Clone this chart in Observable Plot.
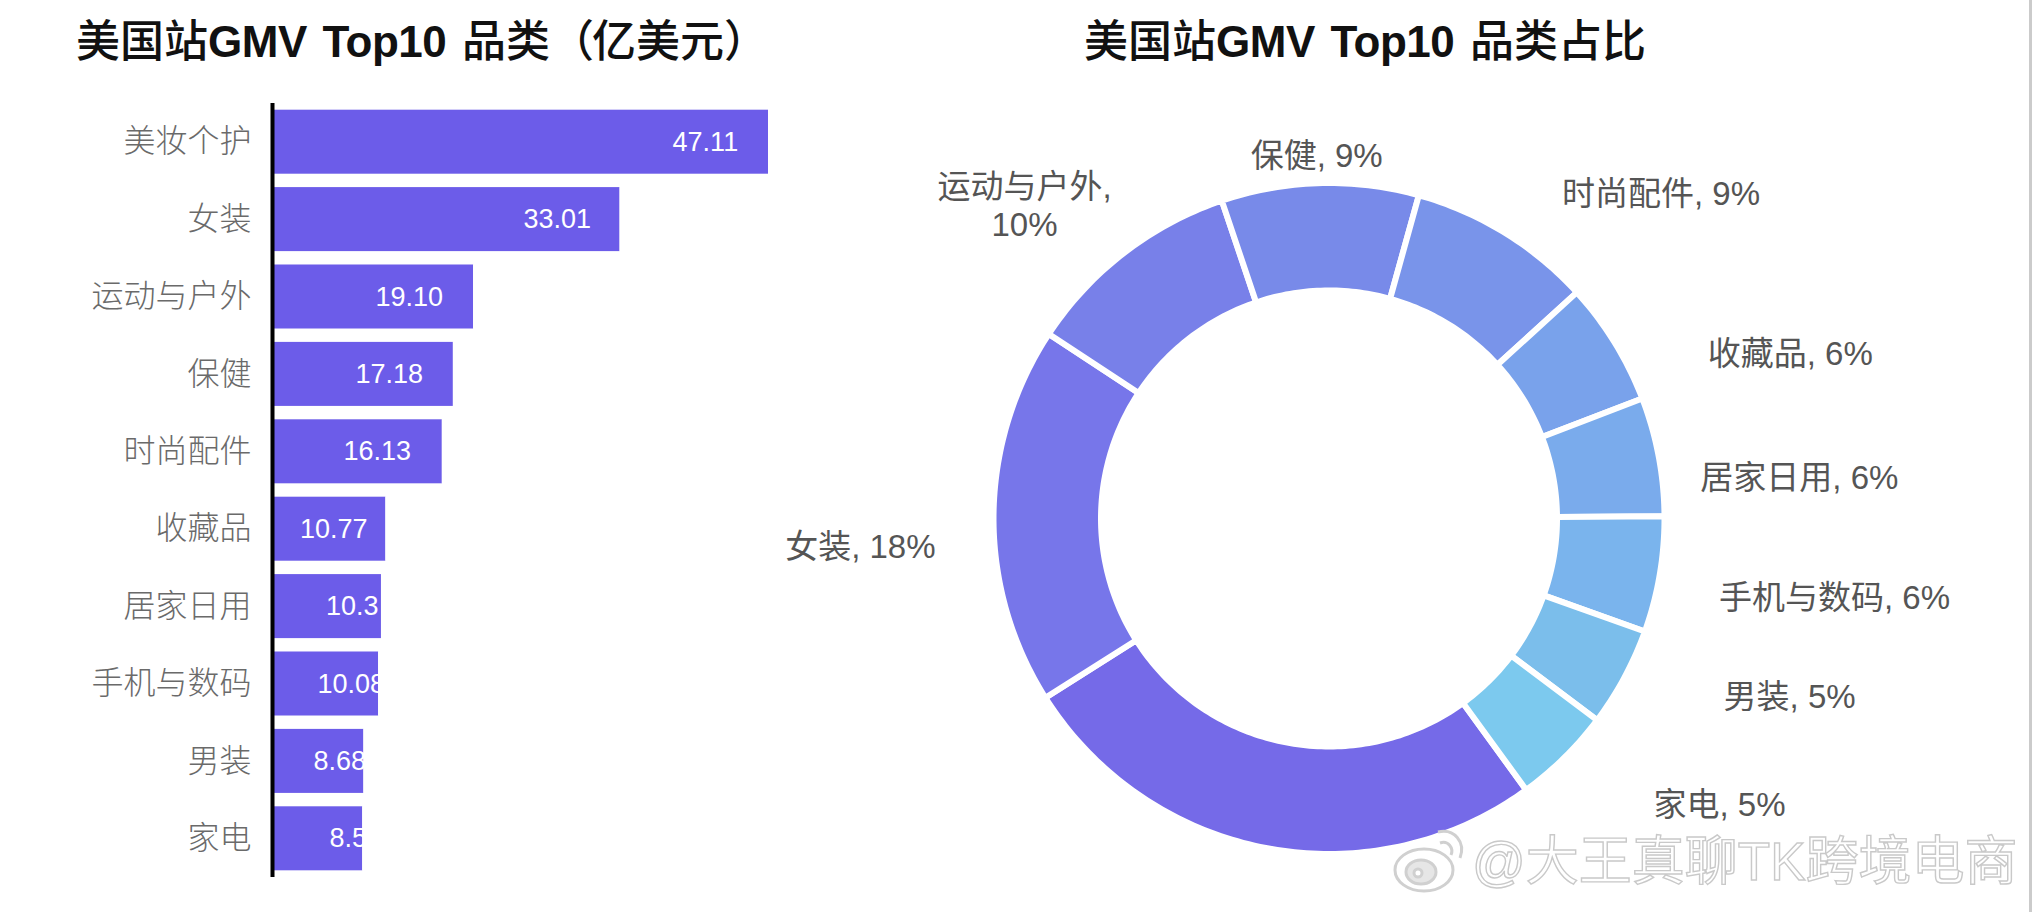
<!DOCTYPE html>
<html lang="zh">
<head>
<meta charset="utf-8">
<script src="https://cdn.jsdelivr.net/npm/d3@7"></script>
<script src="https://cdn.jsdelivr.net/npm/@observablehq/plot@0.6"></script>
<style>
  html, body { margin: 0; padding: 0; background: #fff; }
  #page { position: relative; width: 2032px; height: 912px; overflow: hidden; background: #fff;
          font-family: "Liberation Sans", "Noto Sans CJK SC", sans-serif; }
  #barPlot, #pieChart { position: absolute; top: 0; }
  #barPlot { left: 0; }
  #pieChart { left: 800px; }
  .title { position: absolute; top: 14px; font-size: 44px; line-height: 56px; font-weight: 700; color: #111;
           white-space: nowrap; letter-spacing: -0.5px; word-spacing: 4px; }
  .title .cjk { font-weight: 500; letter-spacing: 0; }
  .title .paren { letter-spacing: -2px; }
  #mark { position: absolute; left: 1472px; top: 832px; font-size: 53px; line-height: 60px; color: #fff; white-space: nowrap;
          -webkit-text-stroke: 1.4px #c9c9c9; font-weight: 400; }
  #logo { position: absolute; left: 1390px; top: 826px; }
  #edge { position: absolute; left: 2029px; top: 0; width: 3px; height: 912px; background: #cbcbcb; }
</style>
</head>
<body>
<div id="page">
  <div id="barPlot"></div>
  <div id="pieChart"></div>
  <div class="title" style="left:76px"><span class="cjk">美国站</span>GMV Top10 <span class="cjk">品类<span class="paren">（</span>亿美元）</span></div>
  <div class="title" style="left:1084px"><span class="cjk">美国站</span>GMV Top10 <span class="cjk">品类占比</span></div>
  <svg id="logo" width="80" height="70" viewBox="0 0 80 70" fill="none" stroke="#d0d0d0" stroke-width="3">
    <ellipse cx="34" cy="44" rx="29" ry="21" fill="#fff"/>
    <ellipse cx="31" cy="46" rx="15" ry="12" fill="#e6e6e6"/>
    <circle cx="28" cy="47" r="4" fill="#fff"/>
    <path d="M48 6 C64 2 76 16 70 32"/>
    <path d="M50 17 C58 14 64 22 61 29"/>
  </svg>
  <div id="mark">@大王真聊TK跨境电商</div>
  <div id="edge"></div>
</div>
<script>
const categories = ["美妆个护", "女装", "运动与户外", "保健", "时尚配件", "收藏品", "居家日用", "手机与数码", "男装", "家电"];
const gmvValues = [47.11, 33.01, 19.10, 17.18, 16.13, 10.77, 10.35, 10.08, 8.68, 8.57];
const valueLabels = ["47.11", "33.01", "19.10", "17.18", "16.13", "10.77", "10.3", "10.08", "8.68", "8.5"];
const valueLabelStart = [38.0, 23.84, 9.78, 7.88, 6.74, 2.61, 5.08, 4.27, 3.89, 5.41];
const shareLabels = [null, "女装, 18%", "运动与户外,\n10%", "保健, 9%", "时尚配件, 9%", "收藏品, 6%", "居家日用, 6%", "手机与数码, 6%", "男装, 5%", "家电, 5%"];
const sliceColors = ["#756ae8", "#7776ea", "#7880e9", "#788ae9", "#7994ea", "#79a2eb", "#7aabec", "#7ab4ed", "#7bbeeb", "#7cc9ee"];
const labelRadius = [0, 1.412, 1.313, 1.092, 1.398, 1.473, 1.42, 1.539, 1.485, 1.456];
const labelAngleShift = [0, -4.0, -6.6, -0.4, 14, 12, 5.6, -0.75, -7.2, -9.25];
const startAngle = 144;
const innerRatio = 231 / 332.5;
const gapHalf = 3 / 332.5;

const fontFamily = '"Liberation Sans", "Noto Sans CJK SC", sans-serif';

const rows = categories.map((name, i) => ({
  name, value: gmvValues[i], label: valueLabels[i], start: valueLabelStart[i]
}));

document.getElementById("barPlot").append(Plot.plot({
  width: 800, height: 912,
  marginTop: 103, marginBottom: 35, marginLeft: 272, marginRight: 32,
  style: { fontFamily, background: "transparent", overflow: "visible" },
  x: { domain: [0, 47.11], axis: null },
  y: { domain: categories, paddingInner: 0.173, paddingOuter: 0.0865, axis: null, round: false },
  marks: [
    Plot.barX(rows, { x: "value", y: "name", fill: "#6c5ce9" }),
    Plot.text(rows, { x: "start", y: "name", text: "label", textAnchor: "start", fill: "#fff", fontSize: 27, fontFamily: '"Liberation Sans"' }),
    // labels are cut at the end of their bar in the reference
    Plot.barX(rows, { x1: "value", x2: d => d.value + 4, y: "name", fill: "#fff" }),
    Plot.axisY({ anchor: "left", tickSize: 0, tickPadding: 21, label: null, fontSize: 32, fill: "#6a6a6a", fontWeight: 300 }),
    Plot.ruleX([0], { stroke: "#000", strokeWidth: 4 })
  ]
}));

const total = d3.sum(gmvValues);
let running = startAngle;
const slices = categories.map((name, i) => {
  const a0 = running;
  const a1 = running + gmvValues[i] / total * 360;
  running = a1;
  return { name, a0, a1, mid: (a0 + a1) / 2, i };
});
const rad = d => d * Math.PI / 180;
const outline = slices.flatMap(s => {
  const n = Math.ceil(s.a1 - s.a0);
  const steps = d3.range(n + 1).map(k => s.a0 + (s.a1 - s.a0) * k / n);
  const ro = 1 + gapHalf, ri = innerRatio - gapHalf;
  return [
    ...steps.map(a => ({ name: s.name, x: ro * Math.sin(rad(a)), y: ro * Math.cos(rad(a)) })),
    ...steps.reverse().map(a => ({ name: s.name, x: ri * Math.sin(rad(a)), y: ri * Math.cos(rad(a)) }))
  ];
});
const labels = slices.filter(s => shareLabels[s.i]).map(s => {
  const a = s.mid + labelAngleShift[s.i], r = labelRadius[s.i];
  return { text: shareLabels[s.i], x: r * Math.sin(rad(a)), y: r * Math.cos(rad(a)) };
});

document.getElementById("pieChart").append(Plot.plot({
  width: 1232, height: 912,
  marginLeft: 196, marginRight: 371, marginTop: 185.5, marginBottom: 61.5,
  style: { fontFamily, background: "transparent", overflow: "visible" },
  x: { domain: [-1, 1], axis: null },
  y: { domain: [-1, 1], axis: null },
  color: { type: "ordinal", domain: categories, range: sliceColors },
  marks: [
    Plot.line(outline, { x: "x", y: "y", z: "name", fill: "name", stroke: "#fff", strokeWidth: 6, curve: "linear-closed" }),
    Plot.text(labels, { x: "x", y: "y", dy: -0.5, text: "text", fontSize: 33, lineHeight: 1.15, fill: "#555" })
  ]
}));
</script>
</body>
</html>
